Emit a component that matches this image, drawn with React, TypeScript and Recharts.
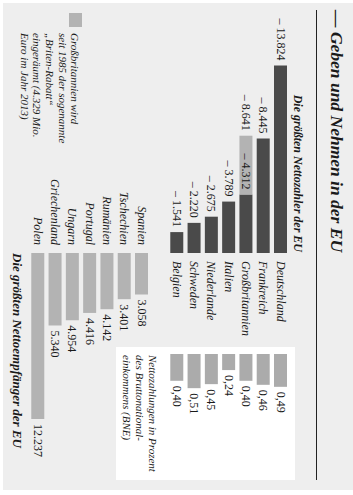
import React from 'react';
import { BarChart, Bar, XAxis, YAxis, LabelList } from 'recharts';

// ---- data ----
const payerCountries = ['Deutschland', 'Frankreich', 'Großbritannien', 'Italien', 'Niederlande', 'Schweden', 'Belgien'];
const payerNet = [13824, 8445, 4312, 3789, 2675, 2220, 1541]; // Mio. Euro
const payerRebate = [0, 0, 4329, 0, 0, 0, 0];
const payerPercentGNI = [0.49, 0.46, 0.40, 0.24, 0.45, 0.51, 0.40];

const recipientCountries = ['Spanien', 'Tschechien', 'Rumänien', 'Portugal', 'Ungarn', 'Griechenland', 'Polen'];
const recipientNet = [3058, 3401, 4142, 4416, 4954, 5340, 12237];

const TITLE = '— Geben und Nehmen in der EU';
const SUB_PAYERS = 'Die größten Nettozahler der EU';
const SUB_RECIPIENTS = 'Die größten Nettoempfänger der EU';
const BOX_LINES = ['Nettozahlungen in Prozent', 'des Bruttonational-', 'einkommens (BNE)'];
const NOTE_LINES = ['Großbritannien wird', 'seit 1985 der sogenannte', '„Briten-Rabatt“', 'eingeräumt (4.329 Mio.', 'Euro im Jahr 2013)'];

// ---- helpers ----
const fmt = (n: number) => String(n).replace(/\B(?=(\d{3})+(?!\d))/g, '.');
const fmtPct = (p: number) => p.toFixed(2).replace('.', ',');

const DARK = '#4a4a4a';
const LIGHT = '#b3b3b3';
const PCT = '#ababab';
const BG = '#eeeeee';
const TXT = '#1a1a1a';
const FONT = '"Liberation Serif", "Times New Roman", Times, serif';

const payerData = payerCountries.map((name, i) => ({
  name,
  net: payerNet[i],
  rebate: payerRebate[i],
  pct: payerPercentGNI[i],
  netLabel: '– ' + fmt(payerNet[i]),
  totalLabel: payerRebate[i] > 0 ? '– ' + fmt(payerNet[i] + payerRebate[i]) : '',
  pctLabel: fmtPct(payerPercentGNI[i]),
}));
const recipientData = recipientCountries.map((name, i) => ({
  name,
  net: recipientNet[i],
  netLabel: fmt(recipientNet[i]),
}));

function geom(props: any) {
  const vb = props.viewBox || {};
  const x = Number(props.x ?? vb.x ?? 0);
  const y = Number(props.y ?? vb.y ?? 0);
  const w = Number(props.width ?? vb.width ?? 0);
  const h = Number(props.height ?? vb.height ?? 0);
  return { x, y, w, h };
}

const valueStyle: React.CSSProperties = { fontFamily: FONT, fontSize: 12, fill: TXT };
const nameStyle: React.CSSProperties = { fontFamily: FONT, fontSize: 12, fontStyle: 'italic', fill: TXT };

// side: which end of the bar to attach to; anchor: text anchor; gap: offset in px (signed)
const makeLabel = (side: 'min' | 'max', anchor: 'start' | 'end', gap: number, style: React.CSSProperties) => (props: any) => {
  const text = props.value;
  if (text === undefined || text === null || text === '') return null;
  const { x, y, w, h } = geom(props);
  const pos = side === 'min' ? Math.min(x, x + w) : Math.max(x, x + w);
  return (
    <text x={pos + gap} y={y + h / 2} textAnchor={anchor} dominantBaseline="central" style={style}>
      {text}
    </text>
  );
};

const abs: React.CSSProperties = { position: 'absolute', left: 0, top: 0 };

export default function App() {
  return (
    <div style={{ position: 'fixed', left: 0, top: 0, width: 353, height: 495, overflow: 'hidden', background: '#ffffff' }}>
      <div
        style={{
          position: 'absolute',
          left: 0,
          top: 0,
          width: 495,
          height: 353,
          transformOrigin: '0 0',
          transform: 'translate(353px, 0) rotate(90deg)',
          fontFamily: FONT,
          color: TXT,
        }}
      >
        {/* grey background */}
        <div style={{ position: 'absolute', left: 3, top: 0, width: 487, height: 350, background: BG }} />
        {/* white box for % chart */}
        <div style={{ position: 'absolute', left: 347, top: 58, width: 133, height: 179, background: '#ffffff' }} />

        {/* title */}
        <div style={{ position: 'absolute', left: 10, top: 6, fontSize: 17.5, lineHeight: '20px', fontStyle: 'italic', fontWeight: 'bold', whiteSpace: 'nowrap' }}>
          {TITLE}
        </div>
        <div style={{ position: 'absolute', left: 10, top: 36, width: 470, height: 1, background: '#222' }} />

        {/* subtitles */}
        <div style={{ position: 'absolute', right: 495 - 252, top: 48, fontSize: 12, lineHeight: '14px', fontStyle: 'italic', fontWeight: 'bold', whiteSpace: 'nowrap' }}>
          {SUB_PAYERS}
        </div>
        <div style={{ position: 'absolute', left: 253, top: 329, fontSize: 13, lineHeight: '14px', fontStyle: 'italic', fontWeight: 'bold', whiteSpace: 'nowrap' }}>
          {SUB_RECIPIENTS}
        </div>

        {/* box text */}
        <div style={{ position: 'absolute', left: 355, top: 194, fontSize: 11, lineHeight: '13px', fontStyle: 'italic', whiteSpace: 'nowrap' }}>
          {BOX_LINES.map((l, i) => (
            <div key={i}>{l}</div>
          ))}
        </div>

        {/* note */}
        <div style={{ position: 'absolute', left: 13, top: 271, width: 14, height: 13, background: LIGHT }} />
        <div style={{ position: 'absolute', left: 33, top: 271.5, fontSize: 11, lineHeight: '12.7px', fontStyle: 'italic', whiteSpace: 'nowrap' }}>
          {NOTE_LINES.map((l, i) => (
            <div key={i}>{l}</div>
          ))}
        </div>

        {/* net payers */}
        <div style={abs}>
          <BarChart width={495} height={353} layout="vertical" data={payerData} margin={{ top: 64, bottom: 168, left: 63, right: 242 }} barSize={13}>
            <XAxis type="number" domain={[0, 14000]} reversed hide />
            <YAxis type="category" dataKey="name" hide />
            <Bar dataKey="net" stackId="a" fill={DARK} isAnimationActive={false}>
              <LabelList dataKey="netLabel" content={makeLabel('min', 'end', -5, valueStyle)} />
              <LabelList dataKey="name" content={makeLabel('max', 'start', 8, nameStyle)} />
            </Bar>
            <Bar dataKey="rebate" stackId="a" fill={LIGHT} isAnimationActive={false}>
              <LabelList dataKey="totalLabel" content={makeLabel('min', 'end', -5, valueStyle)} />
            </Bar>
          </BarChart>
        </div>

        {/* % of GNI */}
        <div style={abs}>
          <BarChart width={495} height={353} layout="vertical" data={payerData} margin={{ top: 64, bottom: 168, left: 354, right: 74 }} barSize={13}>
            <XAxis type="number" domain={[0, 1]} hide />
            <YAxis type="category" dataKey="name" hide />
            <Bar dataKey="pct" fill={PCT} isAnimationActive={false}>
              <LabelList dataKey="pctLabel" content={makeLabel('max', 'start', 5, valueStyle)} />
            </Bar>
          </BarChart>
        </div>

        {/* net recipients */}
        <div style={abs}>
          <BarChart width={495} height={353} layout="vertical" data={recipientData} margin={{ top: 203, bottom: 29, left: 253, right: 52 }} barSize={13}>
            <XAxis type="number" domain={[0, 14000]} hide />
            <YAxis type="category" dataKey="name" hide />
            <Bar dataKey="net" fill={LIGHT} isAnimationActive={false}>
              <LabelList dataKey="netLabel" content={makeLabel('max', 'start', 5, valueStyle)} />
              <LabelList dataKey="name" content={makeLabel('min', 'end', -8, nameStyle)} />
            </Bar>
          </BarChart>
        </div>
      </div>
    </div>
  );
}
